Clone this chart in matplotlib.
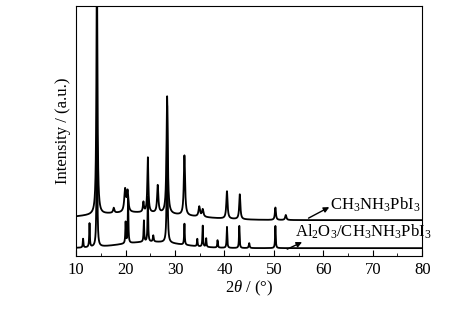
import numpy as np
import matplotlib.pyplot as plt

plt.rcParams['font.family'] = ['Liberation Serif', 'DejaVu Serif']
plt.rcParams['mathtext.fontset'] = 'custom'
plt.rcParams['mathtext.rm'] = 'Liberation Serif'
plt.rcParams['mathtext.it'] = 'Liberation Serif:italic'

# peak lists: position (deg), height (a.u.), fwhm (deg)
mapi_pos = [14.2, 17.6, 19.9, 20.4, 23.6, 24.5, 26.5, 28.4, 31.9, 34.9, 35.6, 40.5, 43.1, 50.3, 52.4]
mapi_h = [100.0, 2.0, 9.0, 8.0, 4.0, 22.0, 11.0, 47.0, 24.0, 4.0, 3.0, 11.0, 10.0, 5.0, 2.0]
mapi_w = [0.25, 0.3, 0.4, 0.35, 0.25, 0.25, 0.3, 0.3, 0.3, 0.35, 0.35, 0.3, 0.28, 0.25, 0.3]
mapi_base = 14.4
mapi_hump = (22.0, 3.0, 10.0)

al_pos = [11.4, 12.7, 14.2, 20.0, 20.5, 23.7, 24.5, 25.6, 28.4, 31.9, 34.5, 35.6, 36.3, 38.6, 40.5, 43.0, 45.0, 50.3]
al_h = [3.5, 9.5, 55.0, 8.5, 18.0, 8.5, 18.0, 2.5, 55.0, 8.5, 3.0, 8.5, 3.5, 3.0, 8.5, 9.0, 2.0, 9.0]
al_w = [0.15, 0.15, 0.18, 0.15, 0.15, 0.15, 0.15, 0.2, 0.18, 0.15, 0.15, 0.15, 0.15, 0.15, 0.15, 0.15, 0.2, 0.15]
al_base = 3.2
al_hump = (25.0, 2.5, 6.0)

labels = [r'CH$_3$NH$_3$PbI$_3$', r'Al$_2$O$_3$/CH$_3$NH$_3$PbI$_3$']


def pattern(x, pos, h, w, base, hump):
    y = np.full_like(x, base)
    y += hump[1] * np.exp(-0.5 * ((x - hump[0]) / hump[2]) ** 2)
    for p, a, g in zip(pos, h, w):
        y += a / (1 + ((x - p) / (g / 2)) ** 2)
    return y


x = np.linspace(10, 80, 3500)

fig = plt.figure(figsize=(4.76, 3.23), dpi=100)
ax = fig.add_axes([0.16, 0.207, 0.727, 0.774])
ax.plot(x, pattern(x, mapi_pos, mapi_h, mapi_w, mapi_base, mapi_hump), color='black', lw=1.3)
ax.plot(x, pattern(x, al_pos, al_h, al_w, al_base, al_hump), color='black', lw=1.3)

ax.set_xlim(10, 80)
ax.set_ylim(0, 100)
ax.set_yticks([])
ax.set_xticks(np.arange(10, 81, 10))
ax.set_xticks(np.arange(15, 80, 10), minor=True)
ax.tick_params(axis='x', which='both', direction='in', labelsize=12, pad=4)
ax.tick_params(axis='x', which='major', length=4)
ax.tick_params(axis='x', which='minor', length=2.5)
ax.set_xlabel(r'2$\theta$ / (°)', fontsize=12, labelpad=1)
ax.set_ylabel('Intensity / (a.u.)', fontsize=12, labelpad=4)

# arrows point from the trace up to the label
ax.annotate('', xy=(61.2, 19.6), xytext=(57.0, 15.2),
            arrowprops=dict(arrowstyle='-|>', color='black', lw=1.0, mutation_scale=8,
                            shrinkA=0, shrinkB=0))
ax.text(61.4, 20.4, labels[0], fontsize=12, va='center', ha='left')
ax.annotate('', xy=(55.7, 5.6), xytext=(52.7, 2.8),
            arrowprops=dict(arrowstyle='-|>', color='black', lw=1.0, mutation_scale=8,
                            shrinkA=0, shrinkB=0))
ax.text(54.3, 9.6, labels[1], fontsize=12, va='center', ha='left')

fig.savefig('out.png', dpi=100)
